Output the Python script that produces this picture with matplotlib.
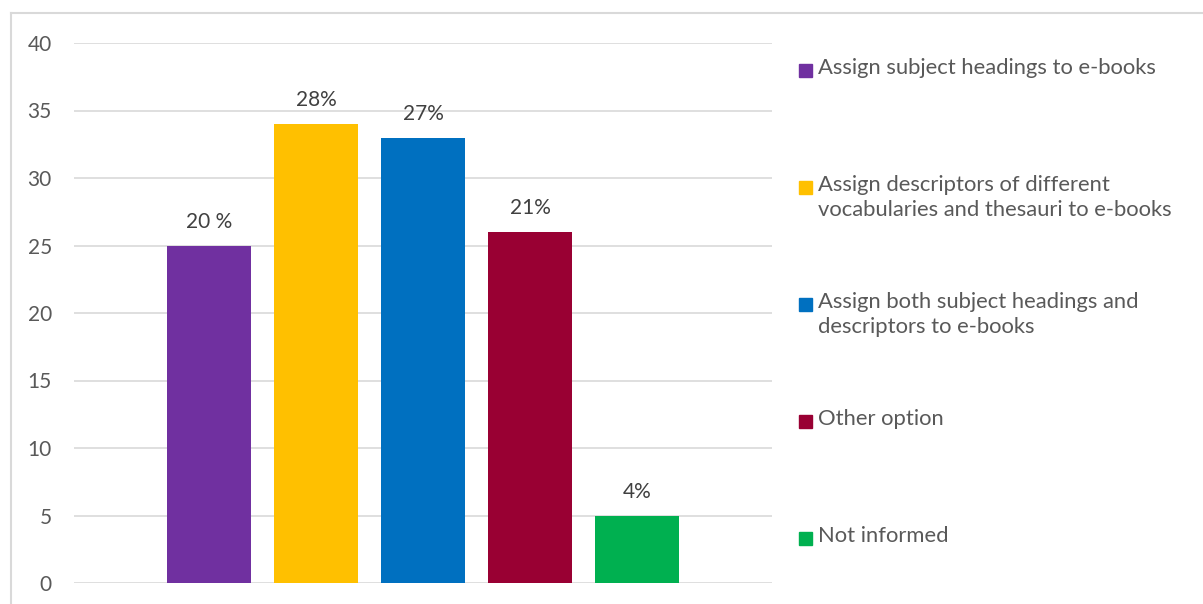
import matplotlib.pyplot as plt
from matplotlib.patches import Rectangle
from matplotlib.lines import Line2D

plt.rcParams['font.family'] = ['Lato', 'DejaVu Sans']

categories = ["Assign subject headings to e-books",
              "Assign descriptors of different\nvocabularies and thesauri to e-books",
              "Assign both subject headings and\ndescriptors to e-books",
              "Other option",
              "Not informed"]
values = [25, 34, 33, 26, 5]
bar_labels = ["20 %", "28%", "27%", "21%", "4%"]
colors = ["#7030A0", "#FFC000", "#0070C0", "#990033", "#00B050"]
yticks = [0, 5, 10, 15, 20, 25, 30, 35, 40]

W, H = 1203, 604
fig = plt.figure(figsize=(W / 100, H / 100), dpi=100)

# axes box in pixels: x 74..772, y 43 (40) .. 583 (0)
ax = fig.add_axes([74 / W, 1 - 583 / H, (772 - 74) / W, (583 - 43) / H])
x = list(range(len(values)))
bars = ax.bar(x, values, width=0.785, color=colors, zorder=3)
ax.set_xlim(-1.26, 5.26)
ax.set_ylim(0, 40)
ax.set_yticks(yticks)
ax.set_xticks([])
ax.grid(axis='y', color='#D9D9D9', linewidth=1.2, zorder=0)
for s in ax.spines.values():
    s.set_visible(False)
ax.tick_params(axis='y', length=0, pad=16, labelsize=15, labelcolor='#595959')

for b, lab in zip(bars, bar_labels):
    ax.annotate(lab, (b.get_x() + b.get_width() / 2, b.get_height()),
                xytext=(0, 10), textcoords='offset points', ha='center', va='bottom',
                fontsize=15, color='#404040')

# legend, entries spaced evenly like Excel
for i, (lab, c) in enumerate(zip(categories, colors)):
    top = 58 + 117 * i
    fig.patches.append(Rectangle((799 / W, 1 - (top + 19) / H), 13 / W, 13 / H,
                                 transform=fig.transFigure, color=c, figure=fig))
    fig.text(818 / W, 1 - top / H, lab, ha='left', va='top', fontsize=15.8,
             color='#595959', linespacing=1.3)

# outer chart border (left and top visible)
fig.add_artist(Line2D([11 / W, 11 / W], [0, 1 - 13 / H], transform=fig.transFigure,
                      color='#D9D9D9', linewidth=1.5))
fig.add_artist(Line2D([11 / W, 1], [1 - 13 / H, 1 - 13 / H], transform=fig.transFigure,
                      color='#D9D9D9', linewidth=1.5))

fig.savefig('out.png', dpi=100)
